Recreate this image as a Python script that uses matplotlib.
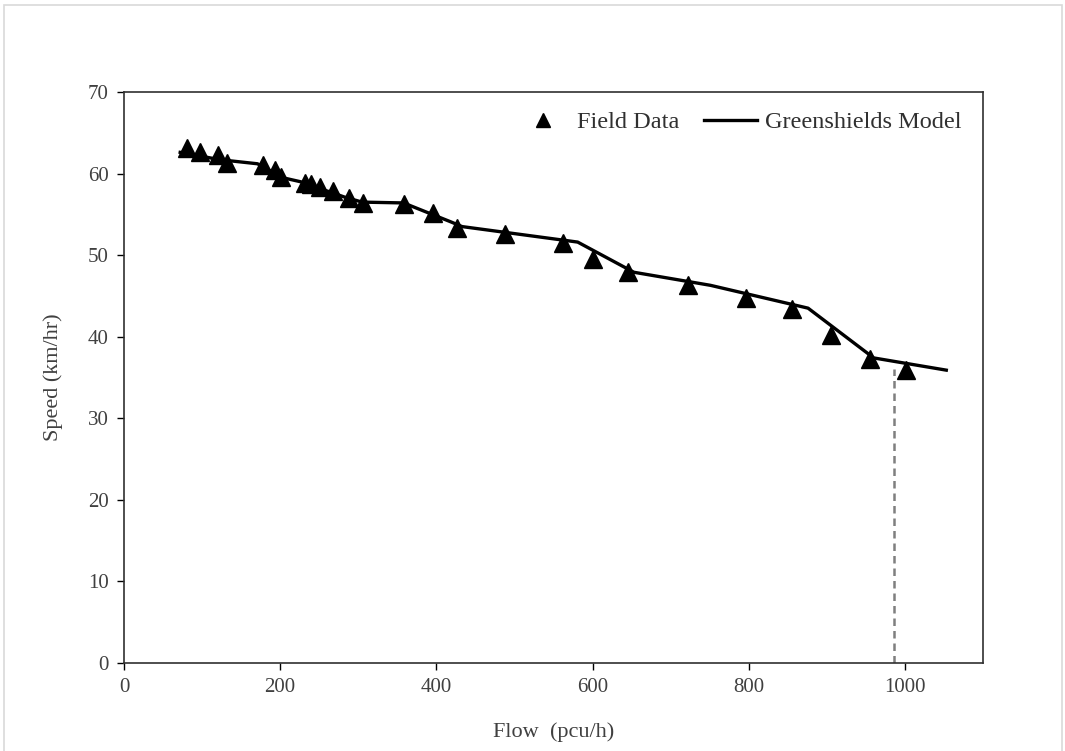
import matplotlib
matplotlib.use("Agg")
import matplotlib.pyplot as plt
from matplotlib.patches import Rectangle

# Field data (flow pcu/h, speed km/hr)
field_flow = [81, 97, 120, 132, 178, 194, 201, 232, 240, 251, 268, 288, 306,
              358, 396, 427, 488, 562, 601, 646, 722, 797, 855, 906, 955, 1001]
field_speed = [63.1, 62.6, 62.3, 61.3, 61.0, 60.4, 59.6, 58.8, 58.7, 58.4, 57.9,
               57.0, 56.4, 56.3, 55.2, 53.3, 52.6, 51.5, 49.5, 47.9, 46.3, 44.7,
               43.4, 40.2, 37.3, 35.9]

# Greenshields model curve
model_flow = [72, 123, 171, 203, 226, 283, 305, 358, 418, 433, 581, 653, 751,
              876, 960, 1053]
model_speed = [62.6, 61.7, 61.2, 59.5, 59.0, 57.1, 56.5, 56.4, 54.1, 53.5, 51.6,
               47.9, 46.3, 43.5, 37.4, 35.9]

# Capacity marker
cap_flow = 986
cap_speed = 36.0

x_ticks = [0, 200, 400, 600, 800, 1000]
y_ticks = [0, 10, 20, 30, 40, 50, 60, 70]

plt.rcParams['font.family'] = ['Liberation Serif', 'DejaVu Serif']

fig = plt.figure(figsize=(10.65, 7.51), dpi=100)
ax = fig.add_axes([0.1164, 0.1172, 0.8066, 0.7603])

ax.plot(model_flow, model_speed, color='black', lw=2.4, zorder=2,
        label='Greenshields Model')
ax.plot(field_flow, field_speed, linestyle='none', marker='^', markersize=13,
        color='black', zorder=3, label='Field Data')
ax.plot([cap_flow, cap_flow], [0, cap_speed], color='#7f7f7f', lw=1.8,
        linestyle=(0, (3, 2)), zorder=1)

ax.set_xlim(0, 1100)
ax.set_ylim(0, 70)
ax.set_xticks(x_ticks)
ax.set_yticks(y_ticks)
ax.tick_params(direction='out', length=5, width=1, labelsize=15,
               colors='black', labelcolor='#404040', pad=6)
for s in ax.spines.values():
    s.set_color('#303030')
    s.set_linewidth(1.2)

ax.set_xlabel('Flow  (pcu/h)', fontsize=16, color='#404040', labelpad=18)
ax.set_ylabel('Speed (km/hr)', fontsize=16, color='#404040', labelpad=18)

handles, labels = ax.get_legend_handles_labels()
leg = ax.legend([handles[1], handles[0]], [labels[1], labels[0]],
                loc='upper right', ncol=2, frameon=False, fontsize=17.5,
                handlelength=2.2, handletextpad=0.3, columnspacing=1.0,
                bbox_to_anchor=(1.0, 1.005), markerscale=0.8)
for t in leg.get_texts():
    t.set_color('#303030')

fig.patches.append(Rectangle((0.004, -0.01), 0.993, 1.003, transform=fig.transFigure,
                             fill=False, edgecolor='#d9d9d9', lw=1.2))

fig.savefig('out.png', dpi=100)
